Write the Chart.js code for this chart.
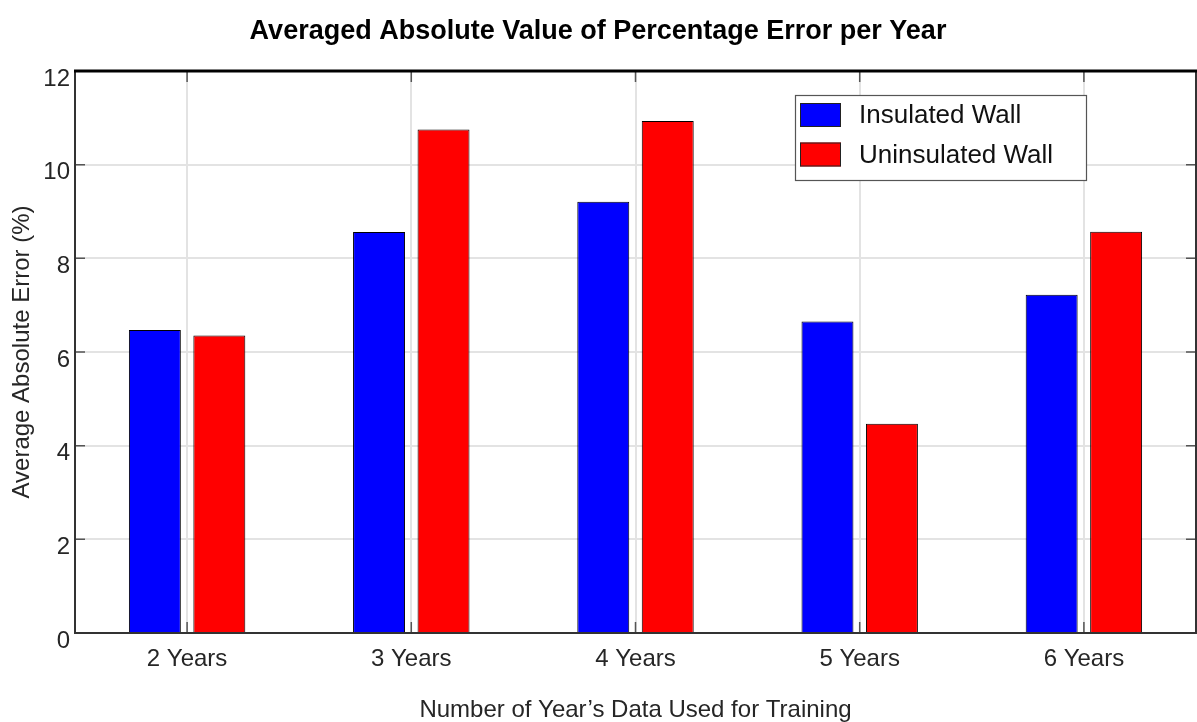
<!DOCTYPE html>
<html>
<head>
<meta charset="utf-8">
<script src="https://cdn.jsdelivr.net/npm/chart.js@4/dist/chart.umd.min.js"></script>
<style>
  html, body { margin: 0; padding: 0; background: #fff; }
  #wrap { width: 1197px; height: 722px; }
</style>
</head>
<body>
<div id="wrap"><canvas id="errChart" width="1197" height="722"></canvas></div>
<script>
// ── data ──
const yearLabels = ["2 Years", "3 Years", "4 Years", "5 Years", "6 Years"];
const insulatedErr = [6.47, 8.56, 9.21, 6.65, 7.22];
const uninsulatedErr = [6.35, 10.75, 10.93, 4.47, 8.57];
const seriesNames = ["Insulated Wall", "Uninsulated Wall"];
const yTicks = [0, 2, 4, 6, 8, 10, 12];

const FONT = "'Liberation Sans', Arial, sans-serif";
const TEXT = "#262626";

// ── axes frame + inward ticks (MATLAB style) ──
const framePlugin = {
  id: "frame",
  afterDatasetsDraw(chart) {
    const { ctx, chartArea: a, scales } = chart;
    ctx.save();
    // ticks pointing inward
    ctx.strokeStyle = "#555";
    ctx.lineWidth = 1.5;
    scales.x.ticks.forEach((t, i) => {
      const x = scales.x.getPixelForTick(i);
      ctx.beginPath();
      ctx.moveTo(x, a.bottom); ctx.lineTo(x, a.bottom - 11);
      ctx.moveTo(x, a.top); ctx.lineTo(x, a.top + 11);
      ctx.stroke();
    });
    scales.y.ticks.forEach(t => {
      const y = scales.y.getPixelForValue(t.value);
      ctx.beginPath();
      ctx.moveTo(a.left, y); ctx.lineTo(a.left + 10, y);
      ctx.moveTo(a.right, y); ctx.lineTo(a.right - 10, y);
      ctx.stroke();
    });
    // box
    ctx.strokeStyle = "#333";
    ctx.lineWidth = 2;
    ctx.beginPath();
    ctx.moveTo(a.left, a.top); ctx.lineTo(a.left, a.bottom);
    ctx.lineTo(a.right, a.bottom); ctx.lineTo(a.right, a.top);
    ctx.stroke();
    ctx.strokeStyle = "#000";
    ctx.lineWidth = 3;
    ctx.beginPath();
    ctx.moveTo(a.left - 1, a.top); ctx.lineTo(a.right + 1, a.top);
    ctx.stroke();
    ctx.restore();
  }
};

// ── boxed legend in the top right corner ──
const boxLegend = {
  id: "boxLegend",
  afterDraw(chart) {
    const { ctx, chartArea: a } = chart;
    const bx = a.right - 401, by = a.top + 24, bw = 291, bh = 85;
    ctx.save();
    ctx.fillStyle = "#fff";
    ctx.fillRect(bx, by, bw, bh);
    ctx.strokeStyle = "#555";
    ctx.lineWidth = 1.2;
    ctx.strokeRect(bx + 0.5, by + 0.5, bw, bh);
    ctx.font = "26px " + FONT;
    ctx.textBaseline = "middle";
    chart.data.datasets.forEach((ds, i) => {
      const sy = by + 8 + i * 39.5;
      ctx.fillStyle = ds.backgroundColor;
      ctx.fillRect(bx + 5, sy, 41, 24);
      ctx.strokeStyle = "#222";
      ctx.lineWidth = 1;
      ctx.strokeRect(bx + 5.5, sy + 0.5, 40, 23);
      ctx.fillStyle = "#111";
      ctx.fillText(ds.label, bx + 64, sy + 13);
    });
    ctx.restore();
  }
};

new Chart(document.getElementById("errChart"), {
  type: "bar",
  data: {
    labels: yearLabels,
    datasets: [
      {
        label: seriesNames[0],
        data: insulatedErr,
        backgroundColor: "#0000ff",
        borderColor: "#000",
        borderWidth: 1,
        categoryPercentage: 0.575,
        barPercentage: 0.806,
      },
      {
        label: seriesNames[1],
        data: uninsulatedErr,
        backgroundColor: "#ff0000",
        borderColor: "#000",
        borderWidth: 1,
        categoryPercentage: 0.575,
        barPercentage: 0.806,
      },
    ]
  },
  options: {
    responsive: false,
    animation: false,
    layout: { padding: { left: 0, right: 1, top: 0, bottom: 0 } },
    plugins: {
      legend: { display: false },
      tooltip: { enabled: false },
      title: {
        display: true,
        text: "Averaged Absolute Value of Percentage Error per Year",
        color: "#000",
        font: { family: FONT, size: 27, weight: "bold", lineHeight: 1.0 },
        padding: { top: 18, bottom: 26 },
      }
    },
    scales: {
      x: {
        offset: true,
        grid: { offset: false, color: "#e3e3e3", lineWidth: 2, drawTicks: false },
        border: { display: false },
        ticks: { color: TEXT, font: { family: FONT, size: 24 }, padding: 12 },
        title: {
          display: true,
          text: "Number of Year\u2019s Data Used for Training",
          color: TEXT,
          font: { family: FONT, size: 24, lineHeight: 1.0 },
          padding: { top: 0, bottom: 0 },
        },
        afterFit: s => { s.height = 89; },
      },
      y: {
        min: 0,
        max: 12,
        afterBuildTicks: s => { s.ticks = yTicks.map(v => ({ value: v })); },
        grid: { color: "#e3e3e3", lineWidth: 2, drawTicks: false },
        border: { display: false },
        ticks: { color: TEXT, font: { family: FONT, size: 24 }, padding: 5, labelOffset: 8 },
        title: {
          display: true,
          text: "Average Absolute Error (%)",
          color: TEXT,
          font: { family: FONT, size: 24 },
          padding: { top: 8, bottom: 0 },
        },
        afterFit: s => { s.width = 75; },
      }
    }
  },
  plugins: [framePlugin, boxLegend]
});
</script>
</body>
</html>
